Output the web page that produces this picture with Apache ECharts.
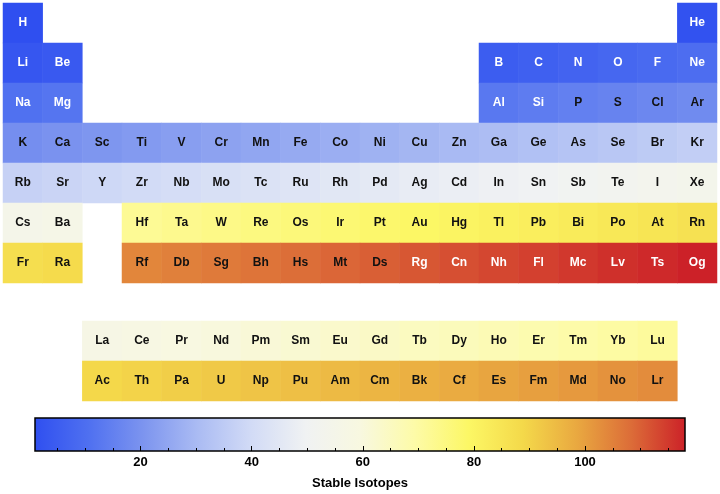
<!DOCTYPE html>
<html>
<head>
<meta charset="utf-8">
<script src="https://cdn.jsdelivr.net/npm/echarts@6/dist/echarts.min.js"></script>
<style>html,body{margin:0;padding:0;background:#fff}#c{width:720px;height:494px}</style>
</head>
<body>
<div id="c"></div>
<script>
// ---- data ----
const symbols = "H He Li Be B C N O F Ne Na Mg Al Si P S Cl Ar K Ca Sc Ti V Cr Mn Fe Co Ni Cu Zn Ga Ge As Se Br Kr Rb Sr Y Zr Nb Mo Tc Ru Rh Pd Ag Cd In Sn Sb Te I Xe Cs Ba La Ce Pr Nd Pm Sm Eu Gd Tb Dy Ho Er Tm Yb Lu Hf Ta W Re Os Ir Pt Au Hg Tl Pb Bi Po At Rn Fr Ra Ac Th Pa U Np Pu Am Cm Bk Cf Es Fm Md No Lr Rf Db Sg Bh Hs Mt Ds Rg Cn Nh Fl Mc Lv Ts Og".split(' ');
const values = [1,2,3,4,5,6,7,8,9,10,11,12,13,14,15,16,17,18,19,20,21,22,23,24,25,26,27,28,29,30,
31,32,33,34,35,36,37,38,39,40,41,42,43,44,45,46,47,48,49,50,51,52,53,54,55,56,57,58,59,60,
61,62,63,64,65,66,67,68,69,70,71,72,73,74,75,76,77,78,79,80,81,82,83,84,85,86,87,88,89,90,
91,92,93,94,95,96,97,98,99,100,101,102,103,104,105,106,107,108,109,110,111,112,113,114,115,116,117,118];
const colorTicks = [20, 40, 60, 80, 100];
const minorTicks = [5,10,15,20,25,30,35,40,45,50,55,60,65,70,75,80,85,90,95,100,105,110,115];
const scaleMin = 1, scaleMax = 118;
const palette = ['#2f4ff0','#4f70f0','#7c94ef','#aabbf3','#d2dbf6','#f0f2f3','#f8f8e0',
                 '#fdfba8','#fcf765','#f4d94a','#e9a840','#dc6c38','#cc2128'];
const columns = Array.from({length:18},(_,i)=>String(i+1));

// periodic-table position (group column, display row) of atomic number z
function pos(z){
  if (z===1) return [1,1];
  if (z===2) return [18,1];
  if (z<=10) return z<=4 ? [z-2,2] : [z+8,2];
  if (z<=18) return z<=12 ? [z-10,3] : [z,3];
  if (z<=36) return [z-18,4];
  if (z<=54) return [z-36,5];
  if (z<=86) return z<=56 ? [z-54,6] : (z<=71 ? [z-54,9] : [z-68,6]);
  return z<=88 ? [z-86,7] : (z<=103 ? [z-86,10] : [z-100,7]);
}

const mainData = [], fData = [];
symbols.forEach((s,i)=>{
  const z = i+1, [c,r] = pos(z), v = values[i];
  const white = v<=14 || v>=111;
  const item = {name:s, value:[c-1, r<=7 ? r-1 : r-9, v], label:{color: white ? '#ffffff' : '#111111'}};
  (r<=7 ? mainData : fData).push(item);
});

const font = 'Liberation Sans, Arial, Helvetica, sans-serif';
const chart = echarts.init(document.getElementById('c'), null, {renderer:'canvas'});
const labelCfg = {show:true, formatter:'{b}', fontFamily:font, fontWeight:'bold', fontSize:12};
const stops = palette.map((c,i)=>({offset:i/(palette.length-1), color:c}));

chart.setOption({
  animation:false,
  backgroundColor:'#fff',
  grid:[
    {left:3, right:3, top:3, height:280},
    {left:3, right:3, top:321, height:80},
    {left:35, right:35, top:418, height:33}
  ],
  xAxis:[
    {type:'category', data:columns, gridIndex:0, show:false},
    {type:'category', data:columns, gridIndex:1, show:false},
    {type:'value', gridIndex:2, min:scaleMin, max:scaleMax, position:'bottom', z:5,
      axisLine:{show:false}, splitLine:{show:false},
      axisTick:{show:true, inside:true, length:5, lineStyle:{color:'#000', width:1}, customValues:colorTicks},
      axisLabel:{show:true, customValues:colorTicks, margin:5, color:'#000', fontFamily:font, fontWeight:'bold', fontSize:13},
      name:'Stable Isotopes', nameLocation:'middle', nameGap:26,
      nameTextStyle:{color:'#000', fontFamily:font, fontWeight:'bold', fontSize:13}},
    {type:'value', gridIndex:2, min:scaleMin, max:scaleMax, position:'bottom', z:5,
      axisLine:{show:false}, splitLine:{show:false}, axisLabel:{show:false},
      axisTick:{show:true, inside:true, length:3, lineStyle:{color:'#000', width:1}, customValues:minorTicks}}
  ],
  yAxis:[
    {type:'category', data:['1','2','3','4','5','6','7'], inverse:true, gridIndex:0, show:false},
    {type:'category', data:['9','10'], inverse:true, gridIndex:1, show:false},
    {type:'value', gridIndex:2, min:0, max:1, show:false}
  ],
  visualMap:{type:'continuous', show:false, min:scaleMin, max:scaleMax, dimension:2,
    seriesIndex:[0,1], inRange:{color:palette}},
  series:[
    {type:'heatmap', xAxisIndex:0, yAxisIndex:0, data:mainData, label:labelCfg,
      itemStyle:{borderWidth:0}, emphasis:{disabled:true}},
    {type:'heatmap', xAxisIndex:1, yAxisIndex:1, data:fData, label:labelCfg,
      itemStyle:{borderWidth:0}, emphasis:{disabled:true}},
    {type:'custom', xAxisIndex:2, yAxisIndex:2, z:1, data:[[scaleMin, scaleMax]],
      renderItem:function(params, api){
        const p0 = api.coord([api.value(0), 0]);
        const p1 = api.coord([api.value(1), 1]);
        return {type:'rect', shape:{x:p0[0], y:p1[1], width:p1[0]-p0[0], height:p0[1]-p1[1]},
          style:{fill:new echarts.graphic.LinearGradient(0,0,1,0,stops), stroke:'#000', lineWidth:1.5}};
      }}
  ]
});
</script>
</body>
</html>
